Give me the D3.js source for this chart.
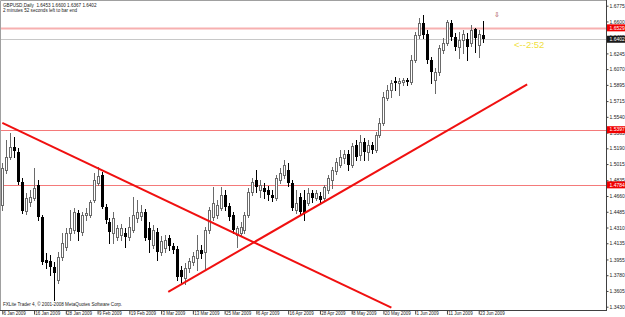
<!DOCTYPE html>
<html>
<head>
<meta charset="utf-8">
<script src="https://cdn.jsdelivr.net/npm/d3@7"></script>
<style>
  body { margin: 0; background: #fff; }
  svg { display: block; }
</style>
</head>
<body>
<div id="chart"></div>
<script>
// GBPUSD daily candles, 6 Jan 2009 .. 24 Jun 2009 (one per trading day)
var opens = [1.4560,1.4948,1.5093,1.5204,1.5149,1.4815,1.4493,1.4593,1.4637,1.4782,
  1.4426,1.3948,1.3937,1.3871,1.3726,1.3982,1.4093,1.4248,1.4282,1.4471,
  1.4259,1.4448,1.4448,1.4615,1.4804,1.4893,1.4537,1.4371,1.4248,1.4204,
  1.4226,1.4248,1.4204,1.4282,1.4415,1.4437,1.4482,1.4304,1.4115,1.4259,
  1.4037,1.4082,1.4193,1.4104,1.4071,1.3837,1.3748,1.3859,1.3926,1.3971,
  1.4060,1.4037,1.4282,1.4426,1.4448,1.4526,1.4671,1.4548,1.4448,1.4226,
  1.4248,1.4282,1.4448,1.4704,1.4837,1.4726,1.4748,1.4726,1.4671,1.4637,
  1.4837,1.4893,1.4948,1.4804,1.4504,1.4648,1.4615,1.4582,1.4693,1.4637,
  1.4660,1.4637,1.4726,1.4837,1.4937,1.5004,1.5082,1.5126,1.5004,1.5226,
  1.5115,1.5260,1.5149,1.5226,1.5171,1.5337,1.5471,1.5749,1.5838,1.5938,
  1.5915,1.5927,1.5949,1.5927,1.6171,1.6449,1.6582,1.6460,1.6171,1.5949,
  1.6038,1.6282,1.6360,1.6582,1.6427,1.6316,1.6394,1.6405,1.6360,1.6516,
  1.6338,1.6453];
var highs = [1.5026,1.5282,1.5360,1.5315,1.5193,1.4860,1.4693,1.4726,1.4971,1.4837,
  1.4448,1.4026,1.4004,1.3926,1.4037,1.4248,1.4304,1.4504,1.4526,1.4504,
  1.4482,1.4526,1.4615,1.4915,1.4982,1.4926,1.4571,1.4415,1.4482,1.4337,
  1.4348,1.4304,1.4426,1.4648,1.4615,1.4560,1.4515,1.4371,1.4337,1.4304,
  1.4215,1.4226,1.4226,1.4137,1.4104,1.3882,1.3915,1.3971,1.4037,1.4226,
  1.4115,1.4315,1.4537,1.4760,1.4615,1.4760,1.4726,1.4582,1.4482,1.4326,
  1.4371,1.4482,1.4748,1.4860,1.4948,1.4837,1.4804,1.4771,1.4726,1.4893,
  1.4971,1.5060,1.5026,1.4837,1.4726,1.4693,1.4726,1.4748,1.4726,1.4726,
  1.4704,1.4782,1.4893,1.4982,1.5082,1.5171,1.5171,1.5171,1.5249,1.5282,
  1.5337,1.5304,1.5282,1.5260,1.5371,1.5526,1.5815,1.5893,1.5949,1.5982,
  1.5971,1.5971,1.5971,1.6227,1.6482,1.6638,1.6671,1.6505,1.6204,1.6082,
  1.6338,1.6416,1.6616,1.6616,1.6471,1.6482,1.6505,1.6471,1.6560,1.6527,
  1.6505,1.6600];
var lows = [1.4504,1.4915,1.5071,1.5093,1.4793,1.4471,1.4460,1.4548,1.4615,1.4393,
  1.3904,1.3859,1.3782,1.3504,1.3693,1.3948,1.4060,1.4171,1.4248,1.4171,
  1.4226,1.4393,1.4426,1.4593,1.4782,1.4526,1.4360,1.4137,1.4137,1.4171,
  1.4171,1.4093,1.4171,1.4259,1.4371,1.4393,1.4171,1.4037,1.4082,1.3948,
  1.4004,1.4037,1.4060,1.4026,1.3726,1.3682,1.3682,1.3815,1.3893,1.3837,
  1.3971,1.3837,1.4248,1.4393,1.4415,1.4504,1.4504,1.4393,1.4248,1.4093,
  1.4215,1.4248,1.4426,1.4671,1.4704,1.4648,1.4637,1.4615,1.4604,1.4615,
  1.4804,1.4860,1.4771,1.4504,1.4471,1.4448,1.4393,1.4560,1.4593,1.4615,
  1.4582,1.4615,1.4693,1.4748,1.4904,1.4982,1.5026,1.4948,1.4982,1.5060,
  1.5060,1.5060,1.5060,1.5137,1.5149,1.5315,1.5449,1.5727,1.5760,1.5838,
  1.5782,1.5893,1.5893,1.5904,1.6149,1.6416,1.6416,1.6138,1.5915,1.5804,
  1.6004,1.6249,1.6338,1.6394,1.6282,1.6193,1.6249,1.6171,1.6327,1.6260,
  1.6204,1.6367];
var closes = [1.4971,1.5093,1.5204,1.5160,1.4815,1.4493,1.4637,1.4648,1.4748,1.4426,
  1.3926,1.3915,1.3871,1.3804,1.3982,1.4137,1.4248,1.4304,1.4482,1.4259,
  1.4448,1.4471,1.4593,1.4837,1.4882,1.4537,1.4393,1.4259,1.4415,1.4304,
  1.4304,1.4204,1.4315,1.4448,1.4482,1.4482,1.4193,1.4171,1.4282,1.4037,
  1.4160,1.4171,1.4104,1.4060,1.3759,1.3759,1.3859,1.3937,1.3993,1.4060,
  1.4015,1.4282,1.4504,1.4582,1.4560,1.4671,1.4537,1.4426,1.4282,1.4304,
  1.4315,1.4448,1.4704,1.4815,1.4760,1.4782,1.4704,1.4671,1.4637,1.4860,
  1.4915,1.5004,1.4804,1.4526,1.4582,1.4482,1.4471,1.4693,1.4637,1.4693,
  1.4615,1.4760,1.4860,1.4948,1.5037,1.5093,1.5126,1.5004,1.5215,1.5093,
  1.5260,1.5149,1.5226,1.5171,1.5337,1.5471,1.5760,1.5838,1.5915,1.5915,
  1.5938,1.5949,1.5927,1.6171,1.6449,1.6582,1.6449,1.6171,1.6038,1.6038,
  1.6305,1.6360,1.6593,1.6427,1.6316,1.6394,1.6460,1.6316,1.6505,1.6416,
  1.6460,1.6402];

// time axis labels (bar index -> label)
var dateBars = [0, 8, 16, 24, 32, 40, 48, 56, 64, 72, 80, 88, 96, 104, 112, 120];
var dateLabels = ["6 Jan 2009", "16 Jan 2009", "28 Jan 2009", "9 Feb 2009", "19 Feb 2009",
  "3 Mar 2009", "13 Mar 2009", "25 Mar 2009", "6 Apr 2009", "16 Apr 2009", "28 Apr 2009",
  "8 May 2009", "20 May 2009", "1 Jun 2009", "11 Jun 2009", "23 Jun 2009"];

// price axis labels
var priceTicks = [1.6775, 1.6600, 1.6425, 1.6245, 1.6070, 1.5895, 1.5715, 1.5540, 1.5365, 1.5190,
  1.5015, 1.4835, 1.4660, 1.4485, 1.4310, 1.4135, 1.3955, 1.3780, 1.3605, 1.3430];

// drawn objects
var levels = [1.6529, 1.5397, 1.4784];
var bidPrice = 1.6402;
var trendLines = [
  [[0, 1.5473], [98, 1.3419]],
  [[41.8, 1.3596], [132.2, 1.5900]]
];
var arrowMark = [124.6, 1.6649];
var timerText = "<--2:52";

var W = 625, H = 317;
var plotL = 1, plotT = 1, plotR = 606, plotB = 310;

var svg = d3.select("#chart").append("svg")
    .attr("width", W)
    .attr("height", H)
    .style("font-family", "'Liberation Sans', Arial, sans-serif");

svg.append("rect").attr("width", W).attr("height", H).attr("fill", "#fff");

var x = d3.scaleLinear().domain([0, 121]).range([2.3, 482.7]);
var y = d3.scaleLinear().domain([1.3430, 1.6775]).range([306.7, 5.7]);

svg.append("clipPath").attr("id", "plot")
  .append("rect")
    .attr("x", plotL).attr("y", plotT)
    .attr("width", plotR - plotL).attr("height", plotB - plotT);

var plot = svg.append("g").attr("clip-path", "url(#plot)");

// bid line
plot.append("line")
    .attr("x1", plotL).attr("x2", plotR)
    .attr("y1", Math.round(y(bidPrice)) + 0.5).attr("y2", Math.round(y(bidPrice)) + 0.5)
    .attr("stroke", "#c8c8c8");

// horizontal levels
plot.selectAll("line.level").data(levels).enter().append("line")
    .attr("class", "level")
    .attr("x1", plotL).attr("x2", plotR)
    .attr("y1", function(d){ return Math.round(y(d)) + 0.5; })
    .attr("y2", function(d){ return Math.round(y(d)) + 0.5; })
    .attr("stroke", function(d, i){ return i == 0 ? "#f7b0b0" : "#f47a7a"; })
    .attr("stroke-width", function(d, i){ return i == 0 ? 2 : 1; });

// candles
var idx = d3.range(opens.length);
var candle = plot.selectAll("g.candle").data(idx).enter().append("g").attr("class", "candle");

candle.append("line")
    .attr("x1", function(i){ return Math.round(x(i)) + 0.5; })
    .attr("x2", function(i){ return Math.round(x(i)) + 0.5; })
    .attr("y1", function(i){ return Math.round(y(highs[i])); })
    .attr("y2", function(i){ return Math.round(y(lows[i])) + 1; })
    .attr("stroke", function(i){ return closes[i] >= opens[i] ? "#6a6a6a" : "#000"; });

candle.append("rect")
    .attr("x", function(i){
        var px = Math.round(x(i));
        return closes[i] >= opens[i] ? px - 0.5 : px - 1;
    })
    .attr("y", function(i){
        var top = Math.round(y(Math.max(opens[i], closes[i])));
        return closes[i] >= opens[i] ? top + 0.5 : top;
    })
    .attr("width", function(i){ return closes[i] >= opens[i] ? 2 : 3; })
    .attr("height", function(i){
        var h = Math.round(y(Math.min(opens[i], closes[i]))) - Math.round(y(Math.max(opens[i], closes[i])));
        return Math.max(h, 1);
    })
    .attr("fill", function(i){ return closes[i] >= opens[i] ? "#fff" : "#000"; })
    .attr("stroke", function(i){ return closes[i] >= opens[i] ? "#6a6a6a" : "none"; });

// trend lines
var lineGen = d3.line().x(function(d){ return x(d[0]); }).y(function(d){ return y(d[1]); });
plot.selectAll("path.trend").data(trendLines).enter().append("path")
    .attr("class", "trend")
    .attr("d", lineGen)
    .attr("fill", "none")
    .attr("stroke", "#f01010")
    .attr("stroke-width", 2);

// arrow object
plot.append("text")
    .attr("x", x(arrowMark[0])).attr("y", y(arrowMark[1]))
    .attr("text-anchor", "middle")
    .attr("font-family", "DejaVu Sans")
    .attr("font-size", 7)
    .attr("fill", "#a04040")
    .text("\u21E9");

// bar timer
plot.append("text")
    .attr("x", 514).attr("y", y(bidPrice) + 8.5)
    .attr("font-size", 9.5)
    .attr("fill", "#f0e040")
    .text(timerText);

// frame
svg.append("path")
    .attr("d", "M" + (plotR + 0.5) + "," + plotB + "V0.5H0.5V" + plotB)
    .attr("fill", "none").attr("stroke", "#a0a0a0");
svg.append("line")
    .attr("x1", plotR + 0.5).attr("x2", plotR + 0.5).attr("y1", 0).attr("y2", plotB + 1)
    .attr("stroke", "#404040");
svg.append("line")
    .attr("x1", 0).attr("x2", plotR + 1).attr("y1", plotB + 0.5).attr("y2", plotB + 0.5)
    .attr("stroke", "#404040");

// price axis
var yAxis = d3.axisRight(y)
    .tickValues(priceTicks)
    .tickFormat(d3.format(".4f"))
    .tickSize(2)
    .tickPadding(1);
var ya = svg.append("g").attr("transform", "translate(" + (plotR + 0.5) + ",0)").call(yAxis);
ya.select(".domain").remove();
ya.selectAll("line").attr("stroke", "#404040");
ya.selectAll("text").attr("font-size", 5).attr("fill", "#222").attr("font-family", null);

// time axis
var xAxis = d3.axisBottom(x)
    .tickValues(dateBars)
    .tickFormat(function(d, k){ return dateLabels[k]; })
    .tickSize(4)
    .tickPadding(1);
var xa = svg.append("g").attr("transform", "translate(0," + (plotB + 0.5) + ")").call(xAxis);
xa.select(".domain").remove();
xa.selectAll(".tick line").attr("stroke", "#404040");
xa.selectAll("text")
    .attr("text-anchor", "start")
    .attr("x", 0.8)
    .attr("y", 0).attr("dy", null)
    .attr("transform", "translate(0,4.8)")
    .attr("font-size", 4.5).attr("fill", "#222").attr("font-family", null);

// price boxes on the axis
var boxes = levels.map(function(v){ return {v: v, c: "#f00000"}; });
boxes.push({v: bidPrice, c: "#1a1a1a"});
var box = svg.selectAll("g.pbox").data(boxes).enter().append("g").attr("class", "pbox");
box.append("rect")
    .attr("x", plotR + 1)
    .attr("y", function(d){ return y(d.v) - 3.5; })
    .attr("width", W - plotR - 1)
    .attr("height", 7)
    .attr("fill", function(d){ return d.c; });
box.append("text")
    .attr("x", plotR + 3.5)
    .attr("y", function(d){ return y(d.v) + 1.8; })
    .attr("font-size", 5)
    .attr("fill", "#fff")
    .text(function(d){ return d3.format(".4f")(d.v); });

// header and footer text
var last = opens.length - 1;
svg.append("text")
    .attr("x", 3).attr("y", 6.5)
    .attr("font-size", 4.6).attr("fill", "#222")
    .attr("xml:space", "preserve")
    .text("GBPUSD,Daily  " + [opens[last], highs[last], lows[last], closes[last]].map(d3.format(".4f")).join(" "));
svg.append("text")
    .attr("x", 3).attr("y", 12)
    .attr("font-size", 4.6).attr("fill", "#222")
    .text("2 minutes 52 seconds left to bar end");
svg.append("text")
    .attr("x", 3).attr("y", 306)
    .attr("font-size", 4.6).attr("fill", "#222")
    .text("FXLite Trader 4, \u00A9 2001-2008 MetaQuotes Software Corp.");
</script>
</body>
</html>
